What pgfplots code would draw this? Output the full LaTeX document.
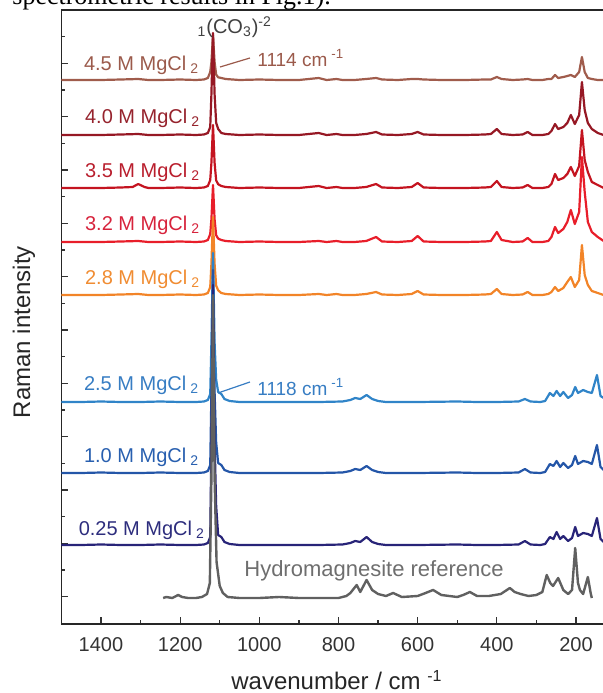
\documentclass[border=0pt]{standalone}
\usepackage{pgfplots}
\pgfplotsset{compat=1.18}
\usepackage{fontspec}
\setmainfont{Liberation Sans}
\newfontfamily\seriffont{Liberation Serif}
\definecolor{c45}{RGB}{160,92,76}
\definecolor{c40}{RGB}{150,24,36}
\definecolor{c35}{RGB}{196,20,32}
\definecolor{c32}{RGB}{232,30,42}
\definecolor{c28}{RGB}{242,132,40}
\definecolor{c25}{RGB}{48,132,200}
\definecolor{c10}{RGB}{36,86,168}
\definecolor{c025}{RGB}{40,36,120}
\definecolor{cref}{RGB}{96,96,96}
\definecolor{l45}{RGB}{155,90,75}
\definecolor{l40}{RGB}{150,35,45}
\definecolor{l35}{RGB}{185,30,45}
\definecolor{l32}{RGB}{215,35,60}
\definecolor{l28}{RGB}{240,140,50}
\definecolor{l25}{RGB}{55,125,195}
\definecolor{l10}{RGB}{40,95,175}
\definecolor{l025}{RGB}{45,45,125}
\definecolor{lref}{RGB}{110,110,110}
\begin{document}
\begin{tikzpicture}
\useasboundingbox (-30.7pt,-34.5pt) rectangle (270.8pt,312pt);
\clip (-30.7pt,-34.5pt) rectangle (270.8pt,312pt);
\begin{axis}[
  scale only axis, width=271.75pt, height=307pt,
  x dir=reverse, xmin=127, xmax=1500, ymin=69, ymax=683,
  xtick={200,400,...,1400}, minor x tick num=1,
  ytick={96.3,149.7,203,256.3,309.7,363,416.3,469.7,523,576.3,629.7},
  minor ytick={123,176.3,229.7,283,336.3,389.7,443,496.3,549.7,603,656.3},
  yticklabels={},
  xtick pos=left, ytick pos=left,
  tick align=inside,
  major tick length=3.5pt, minor tick length=1.8pt,
  axis line style={draw=black!85, line width=0.8pt},
  every tick/.append style={black!80, line width=0.6pt},
  every minor tick/.append style={black!80, line width=0.6pt},
  tick label style={font=\fontsize{10}{12}\selectfont, text=black!80},
  /pgf/number format/assume math mode=true,
  /pgf/number format/1000 sep={},
  xticklabel style={yshift=-3.4pt},
  every axis plot/.append style={mark=none, line join=round, line width=1.1pt},
]
% 4.5 M
\addplot[c45] coordinates {(1500,613) (1450,613) (1400,613) (1350,613.5) (1306,614) (1280,613) (1250,613) (1200,613.5) (1160,613) (1140,613.5) (1130,615) (1124,621) (1121,631) (1117,658) (1113,631) (1109,618.4) (1104,615.7) (1096,615) (1085,614) (1050,613) (1000,613.5) (950,613) (900,613) (850,615) (830,613) (805,614) (790,613) (760,613) (730,614) (705,615) (690,613.5) (650,613) (615,614) (600,614) (585,613.5) (540,613) (480,613) (430,613.5) (415,613.5) (400,616) (388,614) (360,613) (335,613.5) (322,614) (310,613) (285,613) (270,614) (262,614) (253,618) (245,615) (232,616) (222,617) (213,618) (203,616) (192,621) (185,636) (178,621) (170,615) (160,614) (145,613) (130,613)};
% 4.0 M
\addplot[c40] coordinates {(1500,558) (1450,558) (1400,558) (1350,558.5) (1306,559) (1280,558) (1250,558) (1200,558.5) (1160,558) (1140,558.5) (1130,560) (1124,566) (1121,598.8) (1117,660) (1113,598.8) (1109,570.2) (1104,564.1) (1096,560) (1085,559) (1050,558) (1000,558.5) (950,558) (900,558) (850,560) (830,558) (805,559) (790,558) (760,558) (730,559) (705,561) (690,558.5) (650,558) (615,559) (600,561) (585,558.5) (540,558) (480,558) (430,558.5) (415,559) (400,564) (388,559) (360,558) (335,558.5) (322,561) (310,558) (285,558) (270,559) (262,562) (253,569) (245,564) (232,566) (222,570) (213,578) (203,569) (192,578) (185,611) (178,583) (170,570) (160,564) (145,560) (130,558)};
% 3.5 M
\addplot[c35] coordinates {(1500,505) (1450,505) (1400,505) (1350,505.5) (1320,506) (1306,509) (1290,506) (1280,505) (1250,505) (1200,505.5) (1160,505) (1140,505.5) (1130,507) (1124,513) (1121,530.2) (1117,568) (1113,530.2) (1109,512.6) (1104,508.8) (1096,507) (1085,506) (1050,505) (1000,505.5) (950,505) (900,505) (850,507) (830,505) (805,506) (790,505) (760,505) (730,506) (705,509) (690,505.5) (650,505) (615,506) (600,510) (585,505.5) (540,505) (480,505) (430,505.5) (415,506) (400,512) (388,506) (360,505) (335,505.5) (322,508) (310,505) (285,505) (270,506) (262,509) (253,519) (245,513) (232,515) (222,519) (213,526) (203,517) (192,527) (185,563) (178,533) (170,521) (160,511) (145,508) (130,505)};
% 3.2 M
\addplot[c32] coordinates {(1500,451) (1450,451) (1400,451) (1350,451.5) (1306,452) (1280,451) (1250,451) (1200,451.5) (1160,451) (1140,451.5) (1130,453) (1124,459) (1121,473.8) (1117,508) (1113,473.8) (1109,457.8) (1104,454.4) (1096,453) (1085,452) (1050,451) (1000,451.5) (950,451) (900,451) (850,452) (830,451) (805,452) (790,451) (760,451) (730,452) (705,456) (690,451.5) (650,451) (615,452) (600,457) (585,451.5) (540,451) (480,451) (430,451.5) (415,452) (400,461) (388,453) (360,451) (335,451.5) (322,455) (310,451) (285,451) (270,452) (262,456) (253,466) (245,460) (232,464) (222,471) (213,483) (203,469) (192,481) (185,536) (178,501) (170,471) (160,461) (145,456) (130,452)};
% 2.8 M
\addplot[c28] coordinates {(1500,398) (1450,398) (1400,398) (1350,398.5) (1306,399) (1280,398) (1250,398) (1200,398.5) (1160,398) (1140,398.5) (1130,400) (1124,406) (1121,429.2) (1117,476) (1113,429.2) (1109,407.4) (1104,402.7) (1096,400) (1085,399) (1050,398) (1000,398.5) (950,398) (900,398) (850,399) (830,398) (805,399) (790,398) (760,398) (730,399) (705,401) (690,398.5) (650,398) (615,399) (600,402) (585,398.5) (540,398) (480,398) (430,398.5) (415,399) (400,404) (388,399) (360,398) (335,398.5) (322,401) (310,398) (285,398) (270,399) (262,401) (253,406) (245,402) (232,405) (222,411) (213,416) (203,406) (192,413) (185,448) (178,418) (170,408) (160,402) (145,400) (130,398)};
% 2.5 M
\addplot[c25] coordinates {(1500,291) (1450,291) (1400,291.5) (1350,291) (1300,291) (1250,291.5) (1200,291) (1160,291) (1140,291.5) (1130,293) (1124,299) (1121,350.6) (1117,440) (1113,350.6) (1109,313.4) (1104,301) (1096,299) (1088,294) (1075,292) (1050,291) (950,291) (850,291) (790,291.5) (770,293) (758,295) (745,294) (729,298) (715,294) (700,292) (680,291) (600,291) (500,291.5) (450,291) (400,291) (345,291.5) (329,294) (315,291.5) (290,291) (278,292) (266,300) (257,297) (249,302) (240,297) (232,301) (220,295) (210,298) (202,306) (195,300) (182,303) (170,301) (160,300) (147,318) (138,297) (130,295)};
% 1.0 M
\addplot[c10] coordinates {(1500,220) (1450,220) (1400,220.5) (1350,220) (1300,220) (1250,220.5) (1200,220) (1160,220) (1140,220.5) (1130,222) (1124,228) (1121,301.2) (1117,423) (1113,301.2) (1109,250.5) (1104,230) (1096,228) (1088,223) (1075,221) (1050,220) (950,220) (850,220) (790,220.5) (770,222) (758,224) (745,223) (729,227) (715,223) (700,221) (680,220) (600,220) (500,220.5) (450,220) (400,220) (345,220.5) (329,224) (315,220.5) (290,220) (278,221) (266,229) (257,227) (249,232) (240,226) (232,230) (220,225) (210,228) (202,237) (195,229) (182,232) (170,231) (160,229) (147,248) (138,226) (130,223)};
% 0.25 M
\addplot[c025] coordinates {(1500,148) (1450,148) (1400,148.5) (1350,148) (1300,148) (1250,148.5) (1200,148) (1160,148) (1140,148.5) (1130,150) (1124,156) (1121,252) (1117,408) (1113,252) (1109,187) (1104,158) (1096,156) (1088,151) (1075,149) (1050,148) (950,148) (850,148) (790,148.5) (770,150) (758,152) (745,151) (729,156) (715,151) (700,149) (680,148) (600,148) (500,148.5) (450,148) (400,148) (345,148.5) (329,152) (315,148.5) (290,148) (278,149) (266,156) (257,154) (249,161) (240,154) (232,157) (220,152) (210,155) (202,166) (195,157) (182,160) (170,159) (160,157) (147,175) (138,154) (130,151)};
% Hydromagnesite reference
\addplot[cref, line width=1.2pt] coordinates {(1243,95) (1235,96) (1220,95) (1205,98) (1195,96) (1180,95) (1160,95) (1145,96) (1132,99) (1125,110) (1121,216) (1117,398) (1113,216) (1108,131) (1100,107) (1092,100) (1080,96) (1050,95) (1000,95) (950,96) (900,95) (850,95) (800,95) (780,97) (770,100) (754,108) (745,101) (729,113) (715,103) (700,99) (680,97) (662,100) (640,96) (600,97) (580,100) (561,103) (540,98) (520,97) (500,96) (485,98) (468,101) (450,97) (420,97) (390,99) (367,105) (355,101) (340,99) (320,97) (300,98) (285,101) (274,118) (265,110) (258,107) (245,115) (232,103) (220,99) (210,103) (202,145) (195,110) (190,103) (182,99) (170,116) (163,100) (160,95)};
% labels
\def\lf{\fontsize{10}{12}\selectfont}
\node[anchor=west, text=l45, font=\lf] at (axis cs:1460.6,628) {4.5 M MgCl\hspace{2pt}\textsubscript{2}};
\node[anchor=west, text=l40, font=\lf] at (axis cs:1458,575) {4.0 M MgCl\hspace{2pt}\textsubscript{2}};
\node[anchor=west, text=l35, font=\lf] at (axis cs:1458,521) {3.5 M MgCl\hspace{2pt}\textsubscript{2}};
\node[anchor=west, text=l32, font=\lf] at (axis cs:1458,468) {3.2 M MgCl\hspace{2pt}\textsubscript{2}};
\node[anchor=west, text=l28, font=\lf] at (axis cs:1458,414) {2.8 M MgCl\hspace{2pt}\textsubscript{2}};
\node[anchor=west, text=l25, font=\lf] at (axis cs:1460.6,308) {2.5 M MgCl\hspace{2pt}\textsubscript{2}};
\node[anchor=west, text=l10, font=\lf] at (axis cs:1460.6,236) {1.0 M MgCl\hspace{2pt}\textsubscript{2}};
\node[anchor=west, text=l025, font=\lf] at (axis cs:1474,163) {0.25 M MgCl\hspace{2pt}\textsubscript{2}};
\node[text=lref, font=\fontsize{11}{13}\selectfont] at (axis cs:710.3,122) {Hydromagnesite reference};
\draw[l45, line width=0.6pt] (axis cs:1099.3,626) -- (axis cs:1023.6,635);
\node[anchor=west, text=l45, font=\fontsize{9.5}{11}\selectfont, inner sep=1pt] at (axis cs:1011,635) {1114 cm\hspace{2pt}\textsuperscript{-1}};
\draw[l25, line width=0.6pt] (axis cs:1104.4,300) -- (axis cs:1023.6,311);
\node[anchor=west, text=l25, font=\fontsize{9.5}{11}\selectfont, inner sep=1pt] at (axis cs:1011,306) {1118 cm\hspace{2pt}\textsuperscript{-1}};
\node[anchor=west, text=black!75, font=\fontsize{10}{12}\selectfont, inner sep=1pt] at (axis cs:1162,666) {\textsubscript{1}(CO\textsubscript{3})\textsuperscript{-2}};
\end{axis}
\node[rotate=90, font=\fontsize{12}{14}\selectfont, text=black!85] at (-18.7pt,146pt) {Raman intensity};
\node[font=\fontsize{12}{14}\selectfont, text=black!85] at (137.8pt,-28pt) {wavenumber / cm \textsuperscript{-1}};
\node[anchor=base west, font=\seriffont\fontsize{13}{15}\selectfont, inner sep=0pt] at (-24.7pt,309.75pt) {spectrometric results in Fig.1).};
\end{tikzpicture}
\end{document}
